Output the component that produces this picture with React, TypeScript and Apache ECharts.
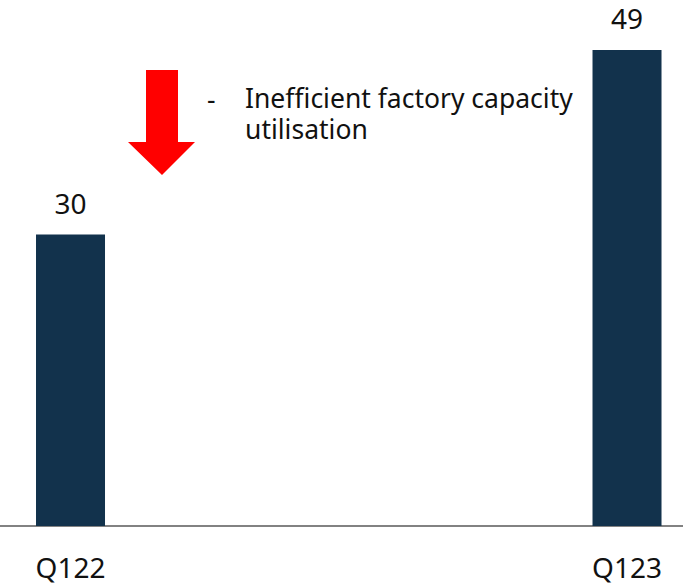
import React, { useEffect, useRef } from "react";
import * as echarts from "echarts";

const categories = ["Q122", "Q123"];
const values = [30, 49];
const noteDash = "-";
const noteLines = ["Inefficient factory capacity", "utilisation"];

export default function App() {
  const ref = useRef<HTMLDivElement>(null);
  useEffect(() => {
    if (!ref.current) return;
    const chart = echarts.init(ref.current, undefined, { renderer: "svg" });
    const font = "'Noto Sans', 'Open Sans', sans-serif";
    const idx = categories.map((_, i) => i);
    chart.setOption({
      animation: false,
      grid: { left: 0, right: 0, top: 0, bottom: 59, containLabel: false },
      xAxis: {
        type: "value",
        min: -0.1267,
        max: 1.1006,
        splitLine: { show: false },
        axisLine: { show: true, onZero: false, lineStyle: { color: "#595959", width: 1.5 } },
        axisTick: { show: false },
        axisLabel: {
          customValues: idx,
          formatter: (v: number) => categories[Math.round(v)] ?? "",
          color: "#111",
          fontSize: 28,
          fontFamily: font,
          margin: 27,
          showMinLabel: true,
          showMaxLabel: true,
        },
      },
      yAxis: { type: "value", min: 0, max: 54.15, show: false, splitLine: { show: false } },
      series: [
        {
          type: "bar",
          data: values.map((v, i) => [idx[i], v]),
          barWidth: 69,
          itemStyle: { color: "#12324C" },
          label: { show: true, position: "top", distance: 18, color: "#111", fontSize: 28, fontFamily: font },
        },
      ],
      graphic: [
        {
          type: "polygon",
          shape: {
            points: [[146, 70], [178, 70], [178, 142], [195, 142], [162, 175], [128, 142], [146, 142]],
          },
          style: { fill: "#FF0000" },
        },
        {
          type: "text",
          x: 207,
          y: 84,
          style: { text: noteDash, fontSize: 26.5, lineHeight: 30, fontFamily: font, fill: "#111" },
        },
        ...noteLines.map((line, i) => ({
          type: "text",
          x: 245,
          y: 83 + i * 31,
          style: { text: line, fontSize: 26.5, lineHeight: 30, fontFamily: font, fill: "#111" },
        })),
      ],
    });
    return () => chart.dispose();
  }, []);
  return <div ref={ref} style={{ width: 683, height: 585, position: "absolute", left: 0, top: 0 }} />;
}
